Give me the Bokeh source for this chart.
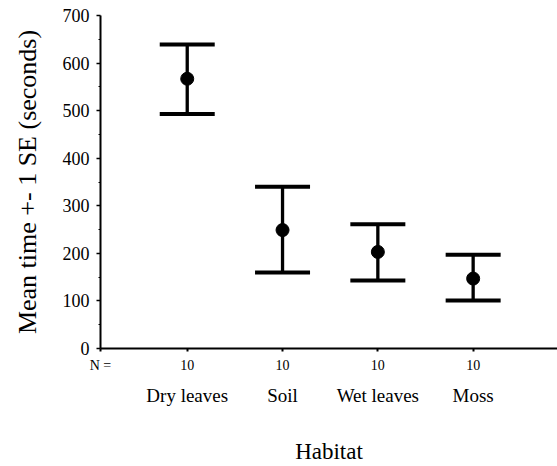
from bokeh.plotting import figure
from bokeh.models import (ColumnDataSource, Whisker, TeeHead, LinearAxis, FixedTicker,
                          Range1d)
from bokeh.embed import file_html
from bokeh.resources import INLINE

habitats = ["Dry leaves", "Soil", "Wet leaves", "Moss"]
n_values = ["10", "10", "10", "10"]
means = [567, 249, 203, 147]
upper = [639, 340, 261, 197]
lower = [493, 160, 143, 101]
y_ticks = [0, 100, 200, 300, 400, 500, 600, 700]

xs = list(range(1, len(habitats) + 1))
src = ColumnDataSource(dict(x=xs, mean=means, upper=upper, lower=lower))

FONT = "Liberation Serif"
X0, X1 = 0.09, 4.885

p = figure(width=557, height=466, output_backend="svg", toolbar_location=None,
           x_range=Range1d(X0, X1), y_range=Range1d(0, 700),
           min_border_left=100, min_border_right=0, min_border_top=15,
           min_border_bottom=10, x_axis_type=None, y_axis_type=None)
p.outline_line_color = None
p.grid.visible = False
p.background_fill_color = "white"
p.border_fill_color = "white"

# Y axis
yax = LinearAxis(ticker=FixedTicker(ticks=y_ticks,
                                    minor_ticks=[v + 50 for v in y_ticks[:-1]]))
yax.axis_label = "Mean time +- 1 SE (seconds)"
yax.axis_label_text_font = FONT
yax.axis_label_text_font_style = "normal"
yax.axis_label_text_font_size = "26px"
yax.axis_label_text_color = "black"
yax.axis_label_standoff = 18
yax.major_label_text_font = FONT
yax.major_label_text_font_size = "18px"
yax.major_label_text_color = "black"
yax.axis_line_width = 2
yax.major_tick_out = 4
yax.major_tick_in = 0
yax.minor_tick_out = 2
yax.minor_tick_in = 0
yax.major_tick_line_width = 1.5
yax.major_label_standoff = 7
p.add_layout(yax, "left")

# X axis with N labels
n_over = {x: n for x, n in zip(xs, n_values)}
n_over[X0] = "N ="
xax = LinearAxis(ticker=FixedTicker(ticks=[X0] + xs), major_label_overrides=n_over)
xax.major_label_text_font = FONT
xax.major_label_text_font_size = "14px"
xax.major_label_text_color = "black"
xax.axis_line_width = 2
xax.major_tick_out = 3
xax.major_tick_in = 0
xax.major_tick_line_width = 2
xax.minor_tick_line_color = None
xax.major_label_standoff = 6
p.add_layout(xax, "below")

# Category name axis
cax = LinearAxis(ticker=FixedTicker(ticks=xs),
                 major_label_overrides={x: h for x, h in zip(xs, habitats)})
cax.axis_line_color = None
cax.major_tick_line_color = None
cax.minor_tick_line_color = None
cax.major_label_text_font = FONT
cax.major_label_text_font_size = "19px"
cax.major_label_text_color = "black"
cax.major_label_standoff = 3
cax.axis_label = "Habitat"
cax.axis_label_text_font = FONT
cax.axis_label_text_font_style = "normal"
cax.axis_label_text_font_size = "23px"
cax.axis_label_text_color = "black"
cax.axis_label_standoff = 30
p.add_layout(cax, "below")

w = Whisker(base="x", upper="upper", lower="lower", source=src, dimension="height",
            line_width=3.3, line_color="black",
            upper_head=TeeHead(size=55, line_width=4, line_color="black"),
            lower_head=TeeHead(size=55, line_width=4, line_color="black"))
p.add_layout(w)
p.scatter("x", "mean", source=src, size=13, color="black")

open("out.html", "w").write(file_html(p, INLINE))
